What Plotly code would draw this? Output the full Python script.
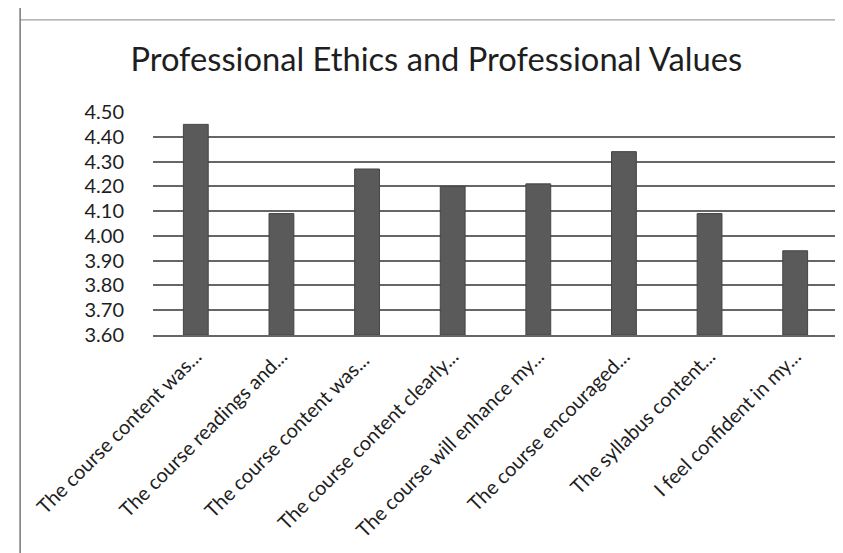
import plotly.graph_objects as go

categories = [
    "The course content was...",
    "The course readings and...",
    "The course content was... ",
    "The course content clearly...",
    "The course will enhance my...",
    "The course encouraged...",
    "The syllabus content...",
    "I feel confident in my...",
]
scores = [4.45, 4.09, 4.27, 4.20, 4.21, 4.34, 4.09, 3.94]
tick_vals = [3.6, 3.7, 3.8, 3.9, 4.0, 4.1, 4.2, 4.3, 4.4, 4.5]
tick_text = ["%.2f" % v for v in tick_vals]
floor = 3.6

FONT = "Lato, Open Sans, sans-serif"

fig = go.Figure()
fig.add_trace(go.Bar(
    x=categories,
    y=[s - floor for s in scores],
    base=floor,
    marker=dict(color="#5a5a5a", line=dict(color="#444444", width=1)),
))

fig.update_layout(
    width=843, height=553,
    paper_bgcolor="white", plot_bgcolor="white",
    margin=dict(l=145, r=13, t=104, b=226),
    bargap=0.71,
    showlegend=False,
    title=dict(
        text="Professional Ethics and Professional Values",
        x=0.508, xanchor="center", y=0.907, yanchor="middle",
        font=dict(family=FONT, size=32.7, color="#1e1e1e"),
    ),
    font=dict(family=FONT, color="#1e1e1e"),
    shapes=[
        dict(type="line", xref="paper", yref="paper",
             x0=-0.194, x1=1.02, y0=1.413, y1=1.413,
             line=dict(color="#888888", width=1)),
        dict(type="line", xref="paper", yref="paper",
             x0=-0.194, x1=-0.194, y0=-1.02, y1=1.5,
             line=dict(color="#777777", width=1.5)),
    ],
)

fig.update_yaxes(
    range=[3.6, 4.5],
    tickvals=tick_vals, ticktext=tick_text,
    tickfont=dict(size=20),
    showgrid=True, gridcolor="#666666", gridwidth=1.8,
    zeroline=False, showline=False,
    ticklabelstandoff=28,
)
fig.update_xaxes(
    tickangle=-45,
    tickfont=dict(size=20),
    showgrid=False, showline=True, linecolor="#666666", linewidth=1.8,
)

fig.write_html("out.html")
